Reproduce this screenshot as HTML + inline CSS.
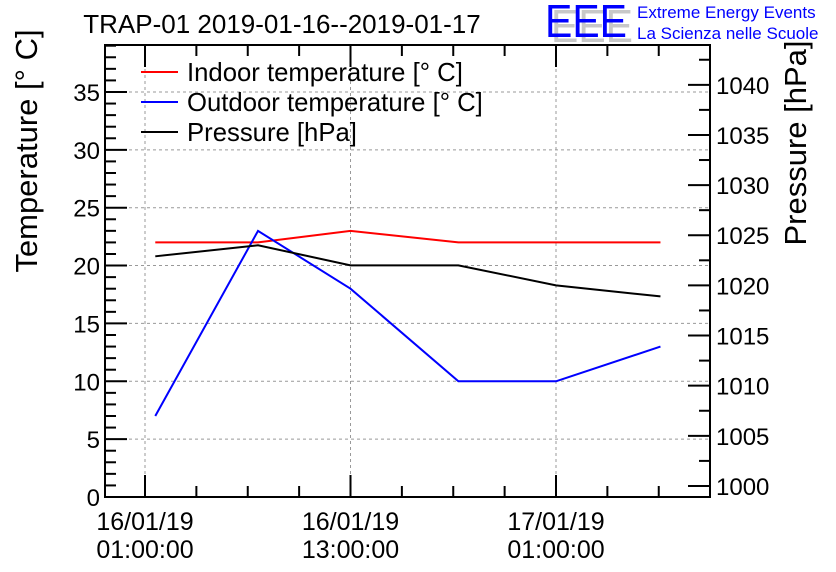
<!DOCTYPE html>
<html><head><meta charset="utf-8"><style>
body{margin:0;background:#fff;}
svg{display:block;font-family:"Liberation Sans",sans-serif;}
</style></head><body>
<svg id="chart" width="836" height="572" xmlns="http://www.w3.org/2000/svg">
<rect width="836" height="572" fill="#fff"/>
<text x="282" y="33" font-size="26" text-anchor="middle">TRAP-01 2019-01-16--2019-01-17</text>
<g>
<text x="551" y="42" font-size="46" fill="#c8c8c8" textLength="82" lengthAdjust="spacingAndGlyphs">EEE</text>
<text x="545" y="37" font-size="46" fill="#0000ff" textLength="82" lengthAdjust="spacingAndGlyphs">EEE</text>
<text x="637" y="18" font-size="17" fill="#0000ff">Extreme Energy Events</text>
<text x="637" y="39" font-size="17" fill="#0000ff">La Scienza nelle Scuole</text>
</g>
<g id="grid"></g>
<g id="series"></g>
<g id="axes"></g>
<text transform="translate(37,151) rotate(-90)" font-size="31" text-anchor="middle">Temperature [° C]</text>
<text transform="translate(806,143) rotate(-90)" font-size="31" text-anchor="middle">Pressure [hPa]</text>
<g>
<g><line x1="141" y1="72" x2="178" y2="72" stroke="#ff0000" stroke-width="2"/><text x="187" y="81" font-size="25.7">Indoor temperature [° C]</text></g>
<g><line x1="141" y1="102" x2="178" y2="102" stroke="#0000ff" stroke-width="2"/><text x="187" y="111" font-size="25.7">Outdoor temperature [° C]</text></g>
<g><line x1="141" y1="132" x2="178" y2="132" stroke="#000" stroke-width="2"/><text x="187" y="141" font-size="25.7">Pressure [hPa]</text></g>
</g>
</svg>
<script>
const hours = [0.6, 6.6, 12, 18.3, 24, 30.1];
const indoorTemp = [22, 22, 23, 22, 22, 22];
const outdoorTemp = [7, 23, 18, 10, 10, 13];
const pressure = [1022.9, 1024.0, 1022.0, 1022.0, 1020.0, 1018.9];
const tempTicks = [0,5,10,15,20,25,30,35];
const pressTicks = [1000,1005,1010,1015,1020,1025,1030,1035,1040];
const xTickHours = [0, 12, 24];
const xTickLabels = [["16/01/19","01:00:00"],["16/01/19","13:00:00"],["17/01/19","01:00:00"]];

const L=105,R=710,T=45,B=497;
const xS=h=>145+h*(205.5/12);
const yT=v=>B-(v-0)*(B-T)/39.06;
const yP=v=>B-(v-998.9)*(B-T)/45.07;
const NS='http://www.w3.org/2000/svg';
function mk(tag,attrs,parent){const e=document.createElementNS(NS,tag);for(const k in attrs)e.setAttribute(k,attrs[k]);parent.appendChild(e);return e;}
const grid=document.getElementById('grid'),axes=document.getElementById('axes'),series=document.getElementById('series');
tempTicks.forEach(v=>{if(v>0){const g=mk('line',{x1:L,x2:R,y1:yT(v),y2:yT(v),stroke:'#999','stroke-dasharray':'3,3','stroke-width':1},grid);}});
xTickHours.forEach(h=>{const g=mk('line',{x1:xS(h),x2:xS(h),y1:T,y2:B,stroke:'#999','stroke-dasharray':'3,3','stroke-width':1},grid);});
const frame=mk('rect',{x:L,y:T,width:R-L,height:B-T,fill:'none',stroke:'#000','stroke-width':2},axes);

for(let v=0;v<=39;v++){const len=v%5==0?22:11;mk('line',{x1:L,x2:L+len,y1:yT(v),y2:yT(v),stroke:'#000','stroke-width':2},axes);}
tempTicks.forEach(v=>{const t=mk('text',{x:L-5,y:yT(v)+9,'font-size':24,'text-anchor':'end'},axes);t.textContent=v;});
for(let v=1000;v<=1043;v+=2.5){const len=(v%5==0)?22:11;mk('line',{x1:R-len,x2:R,y1:yP(v),y2:yP(v),stroke:'#000','stroke-width':2},axes);}
pressTicks.forEach(v=>{const t=mk('text',{x:R+6,y:yP(v)+9,'font-size':24},axes);t.textContent=v;});
for(let h=-3;h<=33;h+=3){const x=xS(h);if(x<L||x>R)continue;const len=h%12==0?22:11;mk('line',{x1:x,x2:x,y1:B-len,y2:B,stroke:'#000','stroke-width':2},axes);mk('line',{x1:x,x2:x,y1:T,y2:T+len,stroke:'#000','stroke-width':2},axes);}
xTickHours.forEach((h,i)=>{const t=mk('text',{x:xS(h),y:530,'font-size':25,'text-anchor':'middle'},axes);t.textContent=xTickLabels[i][0];
const t2=mk('text',{x:xS(h),y:558,'font-size':25,'text-anchor':'middle'},axes);t2.textContent=xTickLabels[i][1];});
function line(vals,ys,color,name){const p=mk('polyline',{points:vals.map((v,i)=>xS(hours[i])+','+ys(v)).join(' '),fill:'none',stroke:color,'stroke-width':2},series);}
line(indoorTemp,yT,'#ff0000','indoor-temperature-line');
line(outdoorTemp,yT,'#0000ff','outdoor-temperature-line');
line(pressure,yP,'#000000','pressure-line');
</script>
</body></html>
